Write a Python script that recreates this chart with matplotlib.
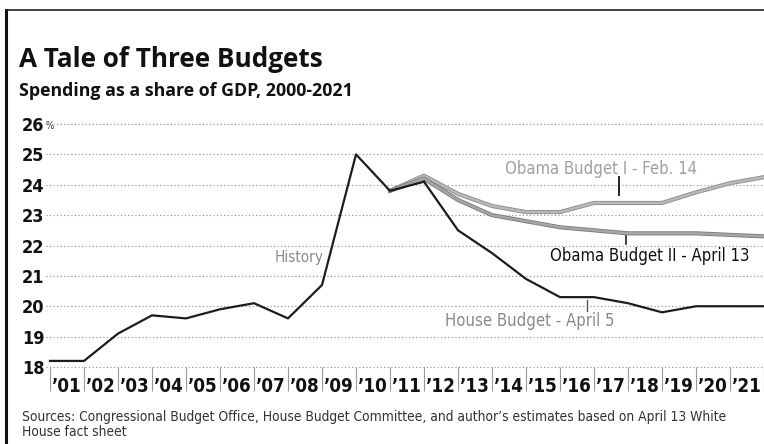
import matplotlib
matplotlib.use("Agg")
import matplotlib.pyplot as plt
import matplotlib.patheffects as pe
from matplotlib import font_manager as fm
from matplotlib.lines import Line2D

# spending as a share of GDP, percent
years_hist = list(range(2000, 2012))
history = [18.2, 18.2, 19.1, 19.7, 19.6, 19.9, 20.1, 19.6, 20.7, 25.0, 23.8, 24.1]

years_proj = list(range(2011, 2022))
house = [24.1, 22.5, 21.75, 20.9, 20.3, 20.3, 20.1, 19.8, 20.0, 20.0, 20.0]
obama1 = [24.3, 23.7, 23.3, 23.1, 23.1, 23.4, 23.4, 23.4, 23.75, 24.05, 24.25]
obama2 = [24.2, 23.5, 23.0, 22.8, 22.6, 22.5, 22.4, 22.4, 22.4, 22.35, 22.3]

year_labels = ["\u2019%02d" % (y - 2000) for y in range(2001, 2022)]
yticks = list(range(18, 27))

title = "A Tale of Three Budgets"
subtitle = "Spending as a share of GDP, 2000-2021"
source1 = ("Sources: Congressional Budget Office, House Budget Committee, "
           "and author\u2019s estimates based on April 13 White")
source2 = "House fact sheet"

W, H = 764, 444
HEAD = ["Open Sans", "DejaVu Sans"]


def narrow_font():
    # prefer a condensed face if one is installed
    try:
        p = fm.findfont(fm.FontProperties(family="DejaVu Sans", stretch="condensed"),
                        fallback_to_default=False)
        if "Condensed" in p:
            return dict(family="DejaVu Sans", stretch="condensed")
    except ValueError:
        pass
    return dict(family="Roboto")


NARROW = narrow_font()

fig = plt.figure(figsize=(W / 100, H / 100), dpi=100)
fig.patch.set_facecolor("white")


def px(x, y):
    return x / W, 1 - y / H


ax = fig.add_axes([50 / W, (H - 367) / H, 714 / W, 243 / H])
ax.set_xlim(2000, 2021)
ax.set_ylim(18, 26)
for s in ax.spines.values():
    s.set_visible(False)

# dotted gridlines
for y in yticks:
    ax.axhline(y, xmin=-0.005, xmax=1, color="#8a8a8a", lw=0.8,
               ls=(0, (1, 2.2)), zorder=1, clip_on=False)

# year separators with labels in between
ax.set_xticks(range(2000, 2022))
ax.set_xticklabels([])
ax.tick_params(axis="x", which="major", direction="out", length=17,
               width=0.8, color="#9a9a9a")
ax.set_xticks([y + 0.5 for y in range(2000, 2021)], minor=True)
ax.set_xticklabels(year_labels, minor=True, fontsize=13.5,
                   fontweight="bold", color="#111", **NARROW)
ax.tick_params(axis="x", which="minor", length=0, pad=7)

ax.set_yticks(yticks)
ax.set_yticklabels([str(y) for y in yticks], fontsize=13,
                   fontweight="bold", color="#111", ha="left", **NARROW)
ax.tick_params(axis="y", length=0, pad=20)
ax.text(-0.006, 25.93, "%", transform=ax.get_yaxis_transform(), fontsize=7,
        color="#333", ha="left", va="center", **NARROW)

# budget paths branch off from the 2010 actual
edge = lambda c: [pe.Stroke(linewidth=3.0, foreground=c), pe.Normal()]
ax.plot([2010] + years_proj, [history[-2]] + obama1, color="#b8b8b8", lw=1.8,
        path_effects=edge("#8c8c8c"), zorder=3, clip_on=False,
        solid_joinstyle="round")
ax.plot([2010] + years_proj, [history[-2]] + obama2, color="#a6a6a6", lw=1.8,
        path_effects=edge("#7a7a7a"), zorder=3, clip_on=False,
        solid_joinstyle="round")
ax.plot(years_proj, house, color="#1c1c1c", lw=1.6, zorder=4, clip_on=False,
        solid_joinstyle="round")
ax.plot(years_hist, history, color="#1c1c1c", lw=1.6, zorder=5, clip_on=False,
        solid_joinstyle="round")

# series labels and their leader ticks
ax.text(2008.05, 21.6, "History", fontsize=11, color="#8a8a8a",
        ha="right", va="center", **NARROW)
ax.text(2016.2, 24.52, "Obama Budget I - Feb. 14", fontsize=12,
        color="#a0a0a0", ha="center", va="center", **NARROW)
ax.text(2017.65, 21.67, "Obama Budget II - April 13", fontsize=12,
        color="#111", ha="center", va="center", **NARROW)
ax.text(2014.1, 19.52, "House Budget - April 5", fontsize=12,
        color="#8a8a8a", ha="center", va="center", **NARROW)
ax.plot([2016.74, 2016.74], [23.65, 24.25], color="#222", lw=1.4)
ax.plot([2016.94, 2016.94], [22.05, 22.38], color="#222", lw=1.2)
ax.plot([2015.8, 2015.8], [19.85, 20.22], color="#555", lw=1.0)

# header and footer
fig.text(*px(19, 67), title, fontsize=18.8, fontweight="bold",
         family=HEAD, color="#111", va="baseline")
fig.text(*px(19, 96), subtitle, fontsize=12.8, fontweight="bold",
         family=HEAD, color="#111", va="baseline")
fig.text(*px(22, 421), source1, fontsize=9.9, color="#333",
         va="baseline", **NARROW)
fig.text(*px(22, 436), source2, fontsize=9.9, color="#333",
         va="baseline", **NARROW)

# panel frame
fig.add_artist(Line2D([6 / W, 6 / W], [0, 1 - 10 / H], color="#111", lw=2.2,
                      transform=fig.transFigure))
fig.add_artist(Line2D([6 / W, 1], [1 - 10 / H, 1 - 10 / H], color="#222",
                      lw=1.2, transform=fig.transFigure))

fig.savefig("out.png", dpi=100)
plt.close(fig)
